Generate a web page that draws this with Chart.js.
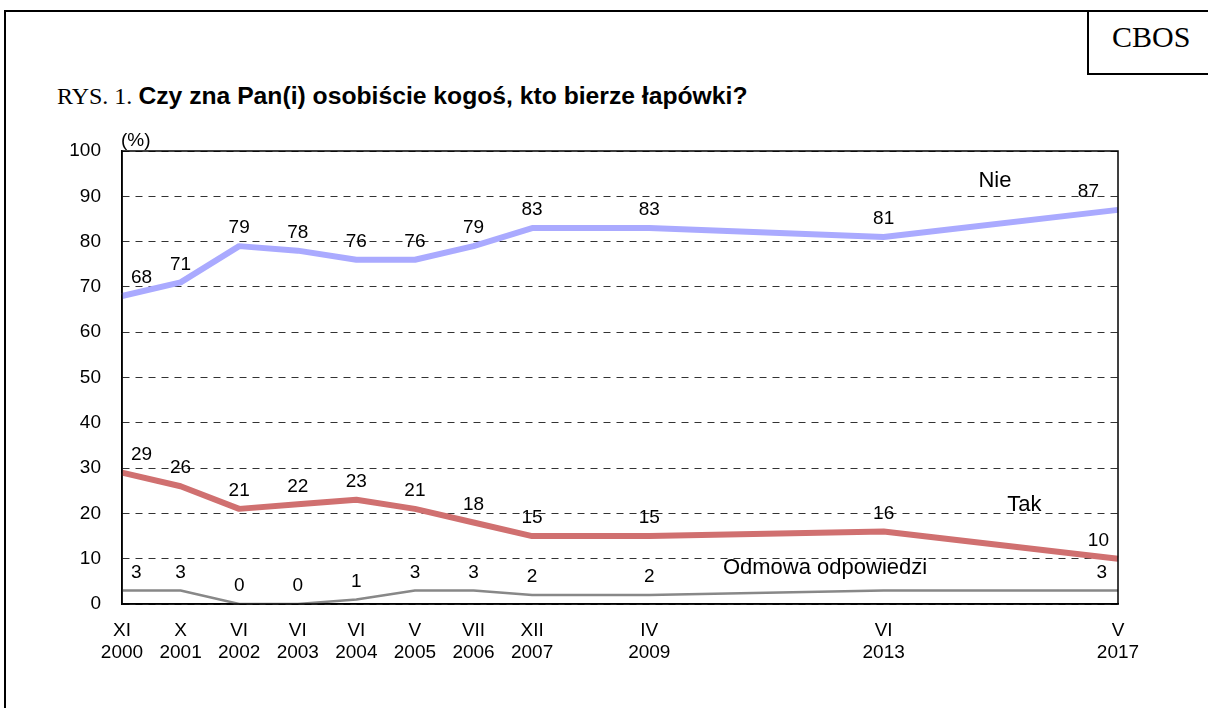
<!DOCTYPE html>
<html>
<head>
<meta charset="utf-8">
<script src="https://cdn.jsdelivr.net/npm/chart.js@4.4.1/dist/chart.umd.min.js"></script>
<style>
  html, body { margin:0; padding:0; background:#fff; }
  body { width:1208px; height:708px; position:relative; overflow:hidden; }
  #frame { position:absolute; left:4px; top:10px; width:1240px; height:740px; border:2px solid #000; box-sizing:border-box; }
  #cbos { position:absolute; left:1087px; top:10px; width:140px; height:65px; border:2px solid #000; box-sizing:border-box;
          font-family:"Liberation Serif","Times New Roman",serif; font-size:30px; line-height:50px; padding-left:23px; }
  #title { position:absolute; left:57px; top:82px; white-space:nowrap; }
  #title .a { font-family:"Liberation Serif","Times New Roman",serif; font-size:24px; }
  #title .b { font-family:"Liberation Sans",Arial,sans-serif; font-size:24.7px; font-weight:bold; }
  #wrap { position:absolute; left:0; top:0; width:1208px; height:708px; }
</style>
</head>
<body>
<div id="frame"></div>
<div id="cbos">CBOS</div>
<div id="title"><span class="a">RYS. 1. </span><span class="b">Czy zna Pan(i) osobiście kogoś, kto bierze łapówki?</span></div>
<div id="wrap"><canvas id="c" width="1208" height="708"></canvas></div>
<script>
// ---- data ----
const months = ['XI','X','VI','VI','VI','V','VII','XII','IV','VI','V'];
const years  = ['2000','2001','2002','2003','2004','2005','2006','2007','2009','2013','2017'];
// position of each survey on an 18-slot axis (irregular spacing as in the original)
const slots  = [0,1,2,3,4,5,6,7,9,13,17];
const nie    = [68,71,79,78,76,76,79,83,83,81,87];
const tak    = [29,26,21,22,23,21,18,15,15,16,10];
const odmowa = [3,3,0,0,1,3,3,2,2,3,3];
const seriesNames = ['Nie','Tak','Odmowa odpowiedzi'];
const yTicks = [0,10,20,30,40,50,60,70,80,90,100];

const nSlots = 18;
const labels = [];
for (let i = 0; i < nSlots; i++) {
  const k = slots.indexOf(i);
  labels.push(k >= 0 ? [months[k], years[k]] : '');
}
function spread(vals) {
  const arr = new Array(nSlots).fill(null);
  slots.forEach((s, k) => { arr[s] = vals[k]; });
  return arr;
}

const FONT = '"Liberation Sans", Arial, sans-serif';

const labelPlugin = {
  id: 'labelsAndFrame',
  afterDatasetsDraw(chart, args, opts) {
    const ctx = chart.ctx;
    const ca = chart.chartArea;
    const xs = chart.scales.x, ys = chart.scales.y;
    ctx.save();
    // frame (solid top/right/bottom/left)
    ctx.strokeStyle = '#000';
    ctx.lineWidth = 1.5;
    ctx.strokeRect(ca.left, ca.top, ca.right - ca.left, ca.bottom - ca.top);
    // data value labels
    ctx.fillStyle = '#000';
    ctx.font = '19px ' + FONT;
    ctx.textBaseline = 'middle';
    chart.data.datasets.forEach((ds, di) => {
      const meta = chart.getDatasetMeta(di);
      const present = [];
      ds.data.forEach((v, i) => { if (v !== null) present.push(i); });
      present.forEach((i, k) => {
        if ((opts.hidden[di] || []).includes(k)) return;
        const el = meta.data[i];
        let x = el.x, align = 'center';
        if (k === 0) { align = 'left'; x += 9; }
        if (k === present.length - 1) { align = 'right'; x -= opts.endShift[di]; }
        ctx.textAlign = align;
        ctx.fillText(String(ds.data[i]), x, el.y - 18);
      });
    });
    // series names
    ctx.font = '22px ' + FONT;
    ctx.textAlign = 'center';
    opts.names.forEach((n) => {
      ctx.fillText(n.text, xs.getPixelForValue(n.at[0]), ys.getPixelForValue(n.at[1]));
    });
    // unit
    ctx.font = '19px ' + FONT;
    ctx.textAlign = 'left';
    ctx.textBaseline = 'bottom';
    ctx.fillText('(%)', ca.left - 1, ca.top - 1);
    ctx.restore();
  }
};

new Chart(document.getElementById('c'), {
  type: 'line',
  data: {
    labels: labels,
    datasets: [
      { label: seriesNames[0], data: spread(nie), borderColor: '#aaaaff', borderWidth: 6 },
      { label: seriesNames[1], data: spread(tak), borderColor: '#d07070', borderWidth: 6 },
      { label: seriesNames[2], data: spread(odmowa), borderColor: '#888888', borderWidth: 2.5 }
    ]
  },
  options: {
    responsive: false,
    animation: false,
    spanGaps: true,
    elements: { point: { radius: 0, hoverRadius: 0 }, line: { tension: 0, borderCapStyle: 'butt', borderJoinStyle: 'round' } },
    layout: { padding: { left: 0, top: 151, right: 90, bottom: 0 } },
    plugins: {
      legend: { display: false },
      tooltip: { enabled: false },
      labelsAndFrame: {
        endShift: [19, 9, 11],
        hidden: [[], [], [9]],
        names: [
          { text: seriesNames[0], at: [14.9, 93.4] },
          { text: seriesNames[1], at: [15.4, 21.9] },
          { text: seriesNames[2], at: [12.0, 8.0] }
        ]
      }
    },
    scales: {
      x: {
        type: 'category',
        offset: false,
        grid: { display: false, drawTicks: false },
        border: { display: true, color: '#000', width: 1.5 },
        ticks: { autoSkip: false, maxRotation: 0, padding: 16, color: '#000', font: { family: FONT, size: 19, lineHeight: 1.15 } },
        afterFit(scale) { scale.height = 104; }
      },
      y: {
        min: 0, max: 100,
        afterBuildTicks(scale) { scale.ticks = yTicks.map(v => ({ value: v })); },
        grid: { color: '#333', lineWidth: 1, drawTicks: false },
        border: { display: true, color: '#000', width: 1.5, dash: [7, 6] },
        ticks: { padding: 21, color: '#000', font: { family: FONT, size: 19 } },
        afterFit(scale) { scale.width = 122; }
      }
    }
  },
  plugins: [labelPlugin]
});
</script>
</body>
</html>
